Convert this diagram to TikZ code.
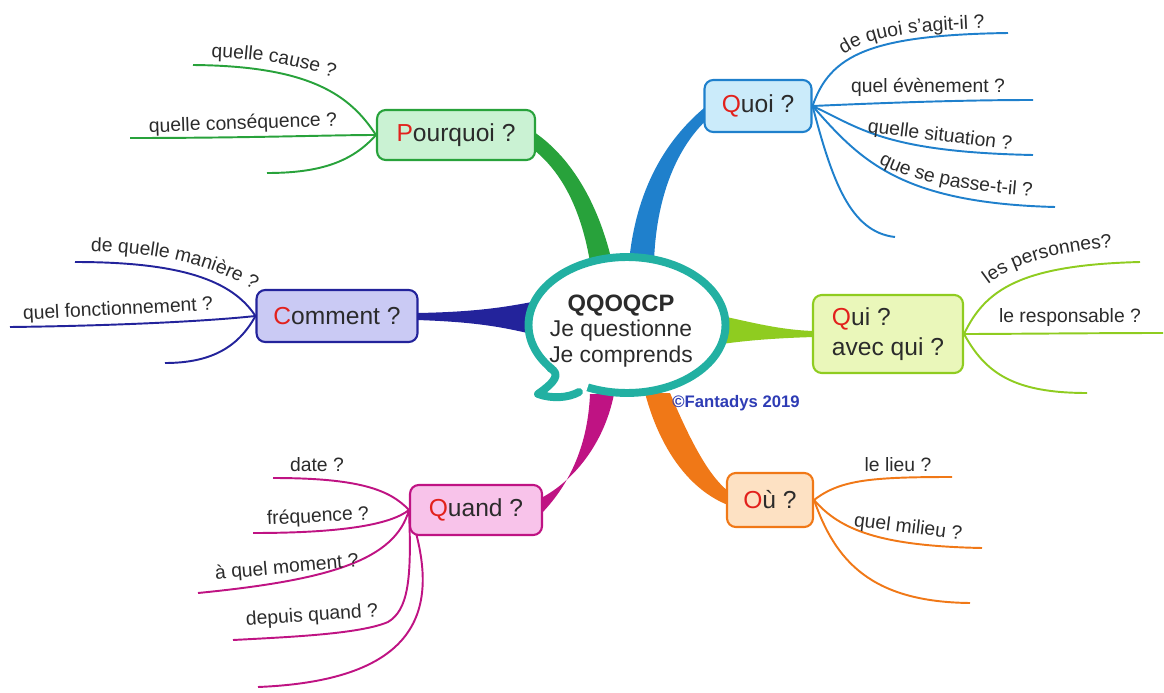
\documentclass[tikz,border=0pt]{standalone}
\usepackage{fontspec}
\setmainfont{Liberation Sans}
\usetikzlibrary{calc,shapes.geometric,backgrounds,decorations.text}

\definecolor{bulle}{HTML}{22B0A2}
\definecolor{rouge}{HTML}{E2211C}
\definecolor{gris}{HTML}{2B2B2B}
\definecolor{copyC}{HTML}{2E3CB5}
\definecolor{quoiC}{HTML}{1F80CC}\definecolor{quoiF}{HTML}{CBEBFA}
\definecolor{pqC}{HTML}{28A23B}\definecolor{pqF}{HTML}{CAF2D3}
\definecolor{cmtC}{HTML}{23239B}\definecolor{cmtF}{HTML}{CACAF4}
\definecolor{quiC}{HTML}{8FCC20}\definecolor{quiF}{HTML}{EAF7BA}
\definecolor{ouC}{HTML}{F07817}\definecolor{ouF}{HTML}{FDE1C3}
\definecolor{qdC}{HTML}{BF1383}\definecolor{qdF}{HTML}{F8C3EA}

\newcommand{\init}[1]{\textcolor{rouge}{#1}}
\newcommand{\petit}{\fontsize{11}{13}\selectfont}

\tikzset{
  bubble/.style={ellipse, draw=bulle, line width=4.5pt, fill=white,
    minimum width=3.94cm, minimum height=2.72cm, inner sep=0pt},
  topic/.style={draw, rounded corners=5pt, line width=1.2pt, inner sep=0pt,
    align=center, text=gris, font=\fontsize{14}{17}\selectfont},
  sublbl/.style={inner sep=0pt, text=gris, font=\petit},
  curvelbl/.style={decorate, decoration={text along path, text align=center,
    text color=gris, text={|\petit|#1}}},
  twig/.style={line width=1.1pt},
}

\begin{document}
\begin{tikzpicture}[x=0.02cm,y=-0.02cm]
\useasboundingbox (0,0) rectangle (1164,693);

% centre
\node[bubble] (centre) at (627,325) {};
\fill[white] (565,360) -- (551,369) -- (540,380) -- (532,398) -- (580,404) -- (586,392) -- (590,380) -- cycle;
\draw[bulle, line width=4.5pt, line cap=round, line join=round] (550,368) .. controls (561,374) and (555,382) .. (538,394)
  .. controls (552,399) and (568,398) .. (579,392);
\node[align=center, text=gris, font=\fontsize{13}{14.5}\selectfont] (titre) at (621,331)
  {{\bfseries\fontsize{13.5}{14.5}\selectfont QQOQCP}\\Je questionne\\Je comprends};
\node[text=copyC, font=\bfseries\fontsize{9.5}{11}\selectfont] (copy) at (736,403) {©Fantadys 2019};

% questions
\node[topic, draw=quoiC, fill=quoiF, minimum width=2.14cm, minimum height=1.04cm] (quoi) at (758,106) {\init{Q}uoi ?};
\node[topic, draw=pqC, fill=pqF, minimum width=3.16cm, minimum height=1cm] (pq) at (456,135) {\init{P}ourquoi ?};
\node[topic, draw=cmtC, fill=cmtF, minimum width=3.22cm, minimum height=1.04cm] (cmt) at (337,316) {\init{C}omment ?};
\node[topic, draw=quiC, fill=quiF, minimum width=3cm, minimum height=1.56cm, align=left] (qui) at (888,334) {\init{Q}ui ?\\avec qui ?};
\node[topic, draw=ouC, fill=ouF, minimum width=1.72cm, minimum height=1.08cm] (ou) at (770,500) {\init{O}ù ?};
\node[topic, draw=qdC, fill=qdF, minimum width=2.64cm, minimum height=1cm] (qd) at (476,510) {\init{Q}uand ?};

% bouts libres
\coordinate (qo1) at (1008,33); \coordinate (qo2) at (1033,100); \coordinate (qo3) at (1033,155);
\coordinate (qo4) at (1055,207); \coordinate (qo5) at (895,237);
\coordinate (pq1) at (193,65); \coordinate (pq2) at (130,138); \coordinate (pq3) at (267,173);
\coordinate (cm1) at (75,262); \coordinate (cm2) at (10,327); \coordinate (cm3) at (165,363);
\coordinate (qi1) at (1140,262); \coordinate (qi2) at (1163,333); \coordinate (qi3) at (1087,393);
\coordinate (ou1) at (952,477); \coordinate (ou2) at (982,548); \coordinate (ou3) at (970,603);
\coordinate (qd1) at (273,478); \coordinate (qd2) at (253,533); \coordinate (qd3) at (198,593);
\coordinate (qd4) at (233,640); \coordinate (qd5) at (258,687);

\begin{scope}[on background layer]
% branches principales
\fill[quoiC] (629,262) .. controls (636,190) and (665,140) .. ($(quoi.west)+(3,0)$)
  -- ($(quoi.west)+(3,14)$) .. controls (675,150) and (656,200) .. (654,262) -- cycle;
\fill[pqC] ($(pq.east)+(-2,-3)$) .. controls (575,160) and (600,210) .. (612,262)
  -- (590,262) .. controls (582,215) and (565,175) .. ($(pq.east)+(-2,15)$) -- cycle;
\fill[cmtC] ($(cmt.east)+(-2,-3)$) .. controls (480,312) and (510,306) .. (532,302)
  -- (532,334) .. controls (505,328) and (480,322) .. ($(cmt.east)+(-2,4)$) -- cycle;
\fill[quiC] ($(qui.west)+(2,-3)$) .. controls (780,330) and (750,322) .. (722,316)
  -- (722,344) .. controls (750,340) and (780,338) .. ($(qui.west)+(2,3)$) -- cycle;
\fill[ouC] (645,393) .. controls (660,450) and (690,490) .. ($(ou.west)+(2,5)$)
  -- ($(ou.west)+(2,-9)$) .. controls (708,475) and (690,440) .. (670,393) -- cycle;
\fill[qdC] (590,394) .. controls (588,442) and (572,482) .. ($(qd.east)+(-2,4)$)
  -- ($(qd.east)+(-2,-12)$) .. controls (572,482) and (604,445) .. (614,394) -- cycle;

% rameaux
\draw[twig, quoiC] (quoi.east) .. controls (830,55) and (870,35) .. (qo1);
\draw[twig, quoiC] (quoi.east) .. controls (880,103) and (960,100) .. (qo2);
\draw[twig, quoiC] (quoi.east) .. controls (860,128) and (885,152) .. (qo3);
\draw[twig, quoiC] (quoi.east) .. controls (860,160) and (900,203) .. (qo4);
\draw[twig, quoiC] (quoi.east) .. controls (832,180) and (850,232) .. (qo5);
\draw[twig, pqC] (pq.west) .. controls (350,95) and (310,66) .. (pq1);
\draw[twig, pqC] (pq.west) .. controls (330,135) and (250,138) .. (pq2);
\draw[twig, pqC] (pq.west) .. controls (352,162) and (320,173) .. (pq3);
\draw[twig, cmtC] (cmt.west) .. controls (232,280) and (180,262) .. (cm1);
\draw[twig, cmtC] (cmt.west) .. controls (200,322) and (100,326) .. (cm2);
\draw[twig, cmtC] (cmt.west) .. controls (238,348) and (210,363) .. (cm3);
\draw[twig, quiC] (qui.east) .. controls (985,290) and (1020,265) .. (qi1);
\draw[twig, quiC] (qui.east) .. controls (1000,334) and (1100,333) .. (qi2);
\draw[twig, quiC] (qui.east) .. controls (985,372) and (1012,393) .. (qi3);
\draw[twig, ouC] (ou.east) .. controls (840,480) and (870,477) .. (ou1);
\draw[twig, ouC] (ou.east) .. controls (840,530) and (880,546) .. (ou2);
\draw[twig, ouC] (ou.east) .. controls (835,560) and (870,602) .. (ou3);
\draw[twig, qdC] (qd.west) .. controls (390,490) and (360,478) .. (qd1);
\draw[twig, qdC] (qd.west) .. controls (390,525) and (340,533) .. (qd2);
\draw[twig, qdC] (qd.west) .. controls (395,560) and (330,580) .. (qd3);
\draw[twig, qdC] (qd.west) .. controls (412,580) and (408,610) .. (388,622)
  .. controls (360,634) and (290,637) .. (qd4);
\draw[twig, qdC] (qd.west) .. controls (440,600) and (430,680) .. (qd5);
\end{scope}

% etiquettes
\path[curvelbl={de quoi s'agit-il ?}] (836,60) .. controls (860,40) and (895,31) .. (994,28);
\node[sublbl] (lqo2) at (928,87) {quel évènement ?};
\node[sublbl, rotate=-7] (lqo3) at (940,136) {quelle situation ?};
\path[curvelbl={que se passe-t-il ?}] (870,159) .. controls (900,176) and (940,190) .. (1042,197);
\path[curvelbl={quelle cause ?}] (204,57) .. controls (258,58) and (300,65) .. (341,80);
\node[sublbl, rotate=2] (lpq2) at (243,124) {quelle conséquence ?};
\path[curvelbl={de quelle manière ?}] (86,251) .. controls (150,252) and (210,262) .. (258,293);
\node[sublbl, rotate=3] (lcm2) at (118,310) {quel fonctionnement ?};
\path[curvelbl={les personnes?}] (982,289) .. controls (1010,265) and (1050,252) .. (1120,247);
\node[sublbl] (lqi2) at (1070,318) {le responsable ?};
\node[sublbl] (lou1) at (898,465) {le lieu ?};
\node[sublbl, rotate=-7] (lou2) at (908,528) {quel milieu ?};
\node[sublbl] (lqd1) at (317,465) {date ?};
\node[sublbl, rotate=3] (lqd2) at (318,517) {fréquence ?};
\node[sublbl, rotate=5] (lqd3) at (287,568) {à quel moment ?};
\node[sublbl, rotate=4] (lqd4) at (312,616) {depuis quand ?};
\end{tikzpicture}
\end{document}
